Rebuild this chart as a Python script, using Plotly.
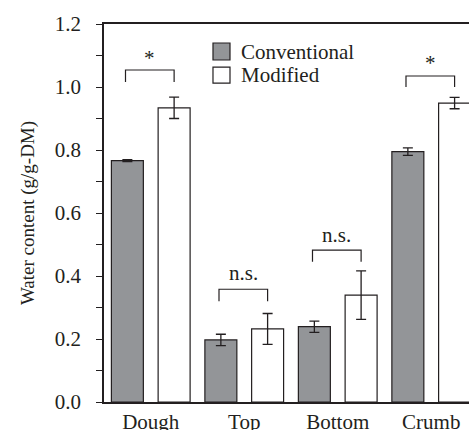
import plotly.graph_objects as go

categories = ["Dough", "Top", "Bottom", "Crumb"]
series_names = ["Conventional", "Modified"]
conventional = [0.766, 0.197, 0.239, 0.795]
conventional_err = [0.003, 0.018, 0.018, 0.012]
modified = [0.934, 0.232, 0.339, 0.949]
modified_err = [0.034, 0.049, 0.077, 0.018]
sig_labels = ["*", "n.s.", "n.s.", "*"]
bracket_top = [1.054, 0.358, 0.482, 1.035]
bracket_leg = [1.016, 0.320, 0.445, 1.000]
label_y = [1.092, 0.409, 0.530, 1.076]

INK = "#231f20"
GRAY = "#939598"
FONT = "Liberation Serif, Times New Roman, serif"

fig = go.Figure()
fig.add_trace(go.Bar(
    x=categories, y=conventional, name=series_names[0],
    marker=dict(color=GRAY, line=dict(color=INK, width=1.2)),
    error_y=dict(type="data", array=conventional_err, color=INK, thickness=1.3, width=5),
    showlegend=False,
))
fig.add_trace(go.Bar(
    x=categories, y=modified, name=series_names[1],
    marker=dict(color="white", line=dict(color=INK, width=1.2)),
    error_y=dict(type="data", array=modified_err, color=INK, thickness=1.3, width=5),
    showlegend=False,
))

# significance brackets
for i in range(len(categories)):
    x0, x1 = i - 0.27, i + 0.25
    fig.add_shape(type="path",
                  path=f"M {x0} {bracket_leg[i]} L {x0} {bracket_top[i]} L {x1} {bracket_top[i]} L {x1} {bracket_leg[i]}",
                  xref="x", yref="y", line=dict(color=INK, width=1.2))
    fig.add_annotation(x=(x0 + x1) / 2, y=label_y[i], text=sig_labels[i], showarrow=False,
                       xref="x", yref="y", font=dict(family=FONT, size=21, color=INK),
                       yanchor="middle")

# manual legend
legend_boxes = [(0.9497, 0.9047), (0.8860, 0.8437)]
legend_fills = [GRAY, "white"]
for (ytop, ybot), fill, name in zip(legend_boxes, legend_fills, series_names):
    fig.add_shape(type="rect", xref="paper", yref="paper", x0=0.2986, x1=0.3452,
                  y0=ybot, y1=ytop, fillcolor=fill, line=dict(color=INK, width=1.2))
    fig.add_annotation(xref="paper", yref="paper", x=0.3699, y=(ytop + ybot) / 2,
                       text=name, showarrow=False, xanchor="left", yanchor="middle",
                       font=dict(family=FONT, size=21, color=INK))

fig.update_layout(
    width=469, height=430,
    margin=dict(l=104, r=0, t=24, b=28, autoexpand=False),
    paper_bgcolor="white", plot_bgcolor="white",
    barmode="group", bargap=0, bargroupgap=0.316,
    font=dict(family=FONT, size=21, color=INK),
    showlegend=False,
)
fig.update_xaxes(
    range=[-0.5, 3.404], showline=True, linecolor=INK, linewidth=1.5, mirror=True,
    ticks="", showgrid=False, zeroline=False, ticklabelstandoff=0, automargin=False,
    tickfont=dict(family=FONT, size=21, color=INK),
)
fig.update_yaxes(
    range=[0, 1.2], dtick=0.2, tickformat=".1f", showline=True, linecolor=INK, linewidth=1.5,
    ticks="outside", ticklen=6, tickwidth=1.2, tickcolor=INK, showgrid=False, zeroline=False,
    minor=dict(dtick=0.1, ticks="outside", ticklen=6, tickwidth=1.2, tickcolor=INK, showgrid=False),
    ticklabelstandoff=11, automargin=False,
    title=dict(text="Water content (g/g-DM)", font=dict(family=FONT, size=19, color=INK), standoff=15),
    tickfont=dict(family=FONT, size=21, color=INK),
)

fig.write_html("out.html", config={"displayModeBar": False},
               post_script="document.body.style.margin='0';document.body.style.overflow='hidden';")
